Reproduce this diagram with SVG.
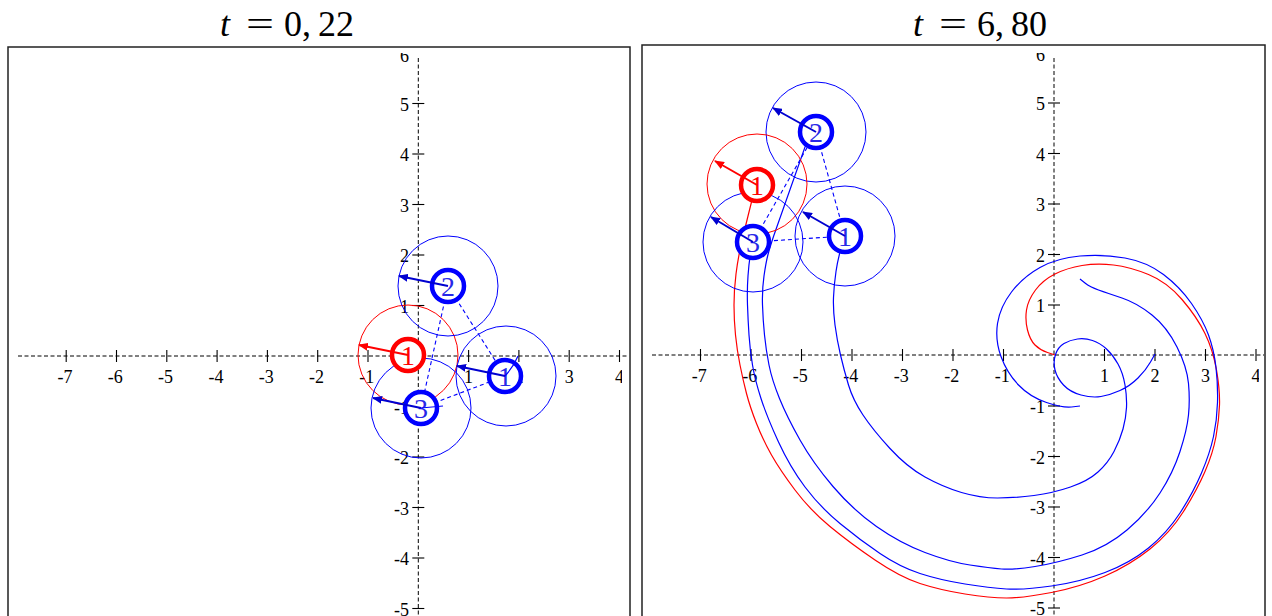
<svg xmlns="http://www.w3.org/2000/svg" width="1272" height="616" viewBox="0 0 1272 616">
<style>
.frame{fill:none;stroke:#222;stroke-width:1.5}
.axis{fill:none;stroke:#000;stroke-width:1;stroke-dasharray:4 2.5}
.tick{stroke:#000;stroke-width:1.1}
.tl{font-family:"Liberation Serif","Times New Roman",serif;font-size:18px;fill:#000}
.tx{text-anchor:middle}
.ty{text-anchor:end}
.title{font-family:"Liberation Serif","Times New Roman",serif;font-size:36px;fill:#000}
.cb{fill:none;stroke:#0000ff;stroke-width:1}
.cr{fill:none;stroke:#ff0000;stroke-width:1}
.trb{fill:none;stroke:#0000ff;stroke-width:1.2}
.trr{fill:none;stroke:#ff0000;stroke-width:1.2}
.dash{fill:none;stroke:#0000ff;stroke-width:1.1;stroke-dasharray:4 3}
.ringb{fill:#fff;stroke:#0000ff;stroke-width:4.5}
.ringr{fill:#fff;stroke:#ff0000;stroke-width:4.5}
.lb{font-family:"Liberation Serif","Times New Roman",serif;font-size:28px;fill:#2828e8;text-anchor:middle}
.lr{font-family:"Liberation Serif","Times New Roman",serif;font-size:28px;fill:#ff0000;text-anchor:middle}
.ab{stroke:#0000d0;stroke-width:2;fill:none;marker-end:url(#ahb)}
.ar{stroke:#ff0000;stroke-width:2;fill:none;marker-end:url(#ahr)}
</style>
<defs>
<marker id="ahb" markerUnits="userSpaceOnUse" markerWidth="10" markerHeight="8" refX="9" refY="4" orient="auto"><path d="M0,0 L10,4 L0,8 z" fill="#0000d0"/></marker>
<marker id="ahr" markerUnits="userSpaceOnUse" markerWidth="10" markerHeight="8" refX="9" refY="4" orient="auto"><path d="M0,0 L10,4 L0,8 z" fill="#ff0000"/></marker>
<clipPath id="clipL"><rect x="9" y="53" width="613" height="563"/></clipPath>
<clipPath id="clipR"><rect x="643" y="53" width="616" height="563"/></clipPath>
</defs>
<rect width="1272" height="616" fill="#fff"/>

<!-- Titles -->
<g id="title-left">
<text class="title" x="220" y="36" font-style="italic">t</text>
<text class="title" x="246" y="36" textLength="28" lengthAdjust="spacingAndGlyphs">=</text>
<text class="title" x="284" y="36">0<tspan x="302">,</tspan><tspan x="318">22</tspan></text>
</g>
<g id="title-right">
<text class="title" x="913" y="36" font-style="italic">t</text>
<text class="title" x="939" y="36" textLength="28" lengthAdjust="spacingAndGlyphs">=</text>
<text class="title" x="977" y="36">6<tspan x="995">,</tspan><tspan x="1011">80</tspan></text>
</g>

<!-- Left panel -->
<g id="panel-left">
<rect class="frame" x="8" y="47" width="622" height="600"/>
<line class="axis" x1="18" y1="356" x2="629" y2="356"/>
<line class="axis" x1="418.3" y1="58" x2="418.3" y2="616"/>
<g class="tick">
<line x1="66.2" y1="350" x2="66.2" y2="362"/><line x1="116.5" y1="350" x2="116.5" y2="362"/><line x1="166.8" y1="350" x2="166.8" y2="362"/><line x1="217.1" y1="350" x2="217.1" y2="362"/><line x1="267.4" y1="350" x2="267.4" y2="362"/><line x1="317.7" y1="350" x2="317.7" y2="362"/><line x1="368" y1="350" x2="368" y2="362"/><line x1="468.6" y1="350" x2="468.6" y2="362"/><line x1="518.9" y1="350" x2="518.9" y2="362"/><line x1="569.2" y1="350" x2="569.2" y2="362"/><line x1="619.5" y1="350" x2="619.5" y2="362"/>
<line x1="412.3" y1="103.5" x2="424.3" y2="103.5"/><line x1="412.3" y1="154" x2="424.3" y2="154"/><line x1="412.3" y1="204.5" x2="424.3" y2="204.5"/><line x1="412.3" y1="255" x2="424.3" y2="255"/><line x1="412.3" y1="305.5" x2="424.3" y2="305.5"/><line x1="412.3" y1="406.5" x2="424.3" y2="406.5"/><line x1="412.3" y1="457" x2="424.3" y2="457"/><line x1="412.3" y1="507.5" x2="424.3" y2="507.5"/><line x1="412.3" y1="558" x2="424.3" y2="558"/><line x1="412.3" y1="608.5" x2="424.3" y2="608.5"/>
</g>
<g class="tl tx">
<text x="65" y="383">-7</text><text x="115.3" y="383">-6</text><text x="165.6" y="383">-5</text><text x="215.9" y="383">-4</text><text x="266.2" y="383">-3</text><text x="316.5" y="383">-2</text><text x="366.8" y="383">-1</text><text x="468.6" y="383">1</text><text x="518.9" y="383">2</text><text x="569.2" y="383">3</text><text x="619.5" y="383" clip-path="url(#clipL)">4</text>
</g>
<g class="tl ty">
<text x="409" y="61.5" clip-path="url(#clipL)">6</text><text x="409" y="110.5">5</text><text x="409" y="161">4</text><text x="409" y="211.5">3</text><text x="409" y="262">2</text><text x="409" y="312.5">1</text><text x="409" y="413.5">-1</text><text x="409" y="464">-2</text><text x="409" y="514.5">-3</text><text x="409" y="565">-4</text><text x="409" y="615.5">-5</text>
</g>
</g>

<!-- Right panel -->
<g id="panel-right">
<rect class="frame" x="642" y="45" width="623" height="600"/>
<line class="axis" x1="652" y1="355" x2="1264" y2="355"/>
<line class="axis" x1="1054" y1="58" x2="1054" y2="616"/>
<g class="tick">
<line x1="700.5" y1="349" x2="700.5" y2="361"/><line x1="751" y1="349" x2="751" y2="361"/><line x1="801.5" y1="349" x2="801.5" y2="361"/><line x1="852" y1="349" x2="852" y2="361"/><line x1="902.5" y1="349" x2="902.5" y2="361"/><line x1="953" y1="349" x2="953" y2="361"/><line x1="1003.5" y1="349" x2="1003.5" y2="361"/><line x1="1104.5" y1="349" x2="1104.5" y2="361"/><line x1="1155" y1="349" x2="1155" y2="361"/><line x1="1205.5" y1="349" x2="1205.5" y2="361"/><line x1="1256" y1="349" x2="1256" y2="361"/>
<line x1="1048" y1="103" x2="1060" y2="103"/><line x1="1048" y1="153.5" x2="1060" y2="153.5"/><line x1="1048" y1="204" x2="1060" y2="204"/><line x1="1048" y1="254.5" x2="1060" y2="254.5"/><line x1="1048" y1="305" x2="1060" y2="305"/><line x1="1048" y1="406" x2="1060" y2="406"/><line x1="1048" y1="456.5" x2="1060" y2="456.5"/><line x1="1048" y1="507" x2="1060" y2="507"/><line x1="1048" y1="557.5" x2="1060" y2="557.5"/><line x1="1048" y1="608" x2="1060" y2="608"/>
</g>
<g class="tl tx">
<text x="699.3" y="382">-7</text><text x="749.8" y="382">-6</text><text x="800.3" y="382">-5</text><text x="850.8" y="382">-4</text><text x="901.3" y="382">-3</text><text x="951.8" y="382">-2</text><text x="1002.3" y="382">-1</text><text x="1104.5" y="382">1</text><text x="1155" y="382">2</text><text x="1205.5" y="382">3</text><text x="1256" y="382" clip-path="url(#clipR)">4</text>
</g>
<g class="tl ty">
<text x="1045" y="61" clip-path="url(#clipR)">6</text><text x="1045" y="110">5</text><text x="1045" y="160.5">4</text><text x="1045" y="211">3</text><text x="1045" y="261.5">2</text><text x="1045" y="312">1</text><text x="1045" y="413">-1</text><text x="1045" y="463.5">-2</text><text x="1045" y="514">-3</text><text x="1045" y="564.5">-4</text><text x="1045" y="615">-5</text>
</g>
</g>

<!-- Connectors: trajectories and dashed links -->
<g id="connectors">
<path id="traj-red-R" class="trr" d="M1055,355 L1047.5,352.5 Q1040,350 1035,345 Q1030,340 1027.5,330 Q1025,320 1026.5,310 Q1028,300 1035.5,290 Q1043,280 1055,274 Q1067,268 1082,265.5 Q1097,263 1113.5,265 Q1130,267 1148.5,274.5 Q1167,282 1182,299.5 Q1197,317 1205,333.5 Q1213,350 1216.5,370 Q1220,390 1219.5,405 Q1219,420 1216,436.5 Q1213,453 1205,471.5 Q1197,490 1183.5,511.5 Q1170,533 1150,549 Q1130,565 1105,576 Q1080,587 1051.5,592.5 Q1023,598 1006.5,598 Q990,598 965,594 Q940,590 920,583.5 Q900,577 875,560 Q850,543 830,526.5 Q810,510 795,490 Q780,470 771.5,455 Q763,440 756.5,423.5 Q750,407 746.5,393.5 Q743,380 740,365 Q737,350 735.5,335 Q734,320 734,305 Q734,290 736,274 Q738,258 741.5,243 Q745,228 748.5,214 L752,200"/>
<path id="traj-b3-R" class="trb" d="M1080,406 L1071.5,407 Q1063,408 1046.5,402.5 Q1030,397 1018.5,385 Q1007,373 1001,356.5 Q995,340 997.5,323.5 Q1000,307 1011.5,292 Q1023,277 1040,267.5 Q1057,258 1080,256 Q1103,254 1125,258 Q1147,262 1163.5,274.5 Q1180,287 1191.5,303.5 Q1203,320 1208.5,335 Q1214,350 1216,367.5 Q1218,385 1217.5,402.5 Q1217,420 1213.5,436.5 Q1210,453 1201.5,473 Q1193,493 1180,513 Q1167,533 1148.5,548 Q1130,563 1105,572.5 Q1080,582 1051.5,586 Q1023,590 1006.5,589 Q990,588 965,584 Q940,580 920,573.5 Q900,567 880,553.5 Q860,540 840,523.5 Q820,507 805,487 Q790,467 778.5,442 Q767,417 761,398.5 Q755,380 752.5,365 Q750,350 749,335 Q748,320 747.5,305 Q747,290 748,276 Q749,262 751,250"/>
<path id="traj-b2-R" class="trb" d="M1080,279 L1085,283 Q1090,287 1098.5,290 Q1107,293 1122,298 Q1137,303 1152,315 Q1167,327 1177,347 Q1187,367 1188.5,383.5 Q1190,400 1188.5,415 Q1187,430 1180,451.5 Q1173,473 1160,493 Q1147,513 1127,530 Q1107,547 1082,555 Q1057,563 1035,566.5 Q1013,570 1001.5,569 Q990,568 970,565 Q950,562 925,552.5 Q900,543 876.5,526.5 Q853,510 833,486.5 Q813,463 800,440 Q787,417 779.5,398.5 Q772,380 769,365 Q766,350 764.5,335 Q763,320 762.5,305 Q762,290 764,276 Q766,262 768,254.5 Q770,247 774,235 L805,147 L816,132"/>
<path id="traj-b1-R" class="trb" d="M1155,354 L1150.5,362 Q1146,370 1138,378 Q1130,386 1120,390.5 Q1110,395 1101,396.5 Q1092,398 1081,395 Q1070,392 1063.5,385 Q1057,378 1055,370 Q1053,362 1055.5,354.5 Q1058,347 1064,343.5 Q1070,340 1077.5,339 Q1085,338 1092.5,340.5 Q1100,343 1106.5,349 Q1113,355 1118,364 Q1123,373 1125,385 Q1127,397 1126.5,407.5 Q1126,418 1123,429 Q1120,440 1114,451.5 Q1108,463 1098,472 Q1088,481 1070.5,487 Q1053,493 1034,495.5 Q1015,498 997.5,498 Q980,498 961.5,492.5 Q943,487 925,477 Q907,467 890,448.5 Q873,430 863,415 Q853,400 848.5,385 Q844,370 840.5,355 Q837,340 835,325 Q833,310 833.5,297.5 Q834,285 836,271.5 Q838,258 842,245"/>
<line class="dash" x1="448" y1="286" x2="505" y2="376"/>
<line class="dash" x1="448" y1="286" x2="421" y2="408"/>
<line class="dash" x1="421" y1="408" x2="505" y2="376"/>
<line class="dash" x1="816" y1="132" x2="845" y2="236"/>
<line class="dash" x1="753" y1="242" x2="845" y2="236"/>
<line class="dash" x1="753" y1="242" x2="816" y2="132"/>
</g>

<!-- Left panel particles -->
<g id="L-red1"><circle class="cr" cx="408" cy="355" r="50"/></g>
<g id="L-blue2"><circle class="cb" cx="448" cy="286" r="50"/></g>
<g id="L-blue1"><circle class="cb" cx="506" cy="376" r="50"/></g>
<g id="L-blue3"><circle class="cb" cx="421" cy="408" r="50"/></g>

<!-- Right panel particles -->
<g id="R-blue2"><circle class="cb" cx="816" cy="132" r="50"/></g>
<g id="R-red1"><circle class="cr" cx="757" cy="184" r="50"/></g>
<g id="R-blue3"><circle class="cb" cx="753" cy="242" r="50"/></g>
<g id="R-blue1"><circle class="cb" cx="845" cy="236" r="50"/></g>

<!-- rings and labels -->
<g id="rings">
<circle class="ringr" cx="408" cy="355" r="16"/><text class="lr" x="408" y="365">1</text>
<circle class="ringb" cx="448" cy="286" r="16"/><text class="lb" x="448" y="296">2</text>
<circle class="ringb" cx="505" cy="376" r="16"/><text class="lb" x="505" y="386">1</text>
<circle class="ringb" cx="421" cy="408" r="16"/><text class="lb" x="421" y="418">3</text>
<circle class="ringb" cx="816" cy="132" r="16"/><text class="lb" x="816" y="142">2</text>
<circle class="ringr" cx="757" cy="185" r="16"/><text class="lr" x="757" y="195">1</text>
<circle class="ringb" cx="753" cy="242" r="16"/><text class="lb" x="753" y="252">3</text>
<circle class="ringb" cx="845" cy="236" r="16"/><text class="lb" x="845" y="246">1</text>
</g>

<!-- left short trajectories (drawn over rings) and arrows -->
<g id="arrows">
<path class="trb" d="M518,356 Q514,366 505,376"/>
<path class="trb" d="M443,406 L421,408"/>
<line class="ar" x1="408" y1="355" x2="359" y2="345"/>
<line class="ab" x1="448" y1="286" x2="399" y2="276"/>
<line class="ab" x1="505" y1="376" x2="457" y2="366"/>
<line class="ab" x1="421" y1="408" x2="373" y2="398"/>
<line class="ab" x1="816" y1="132" x2="773" y2="108"/>
<line class="ar" x1="757" y1="185" x2="715" y2="161"/>
<line class="ab" x1="753" y1="242" x2="711" y2="217"/>
<line class="ab" x1="845" y1="236" x2="803" y2="212"/>
</g>
</svg>
